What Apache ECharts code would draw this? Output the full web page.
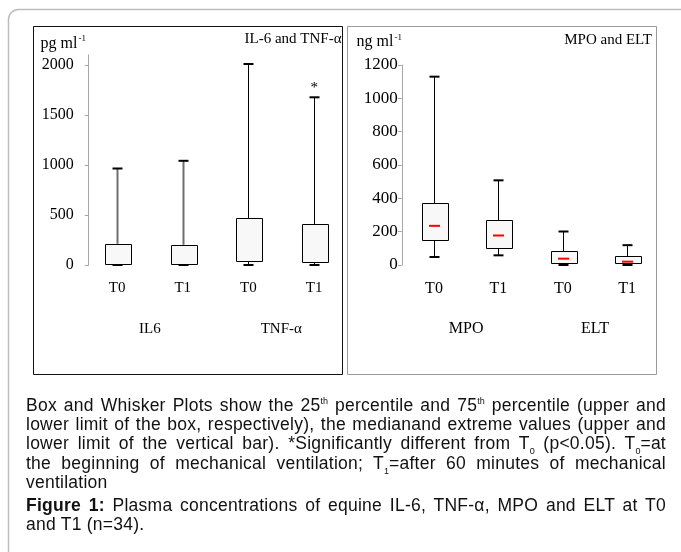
<!DOCTYPE html>
<html>
<head>
<meta charset="utf-8">
<script src="https://cdn.jsdelivr.net/npm/echarts@6/dist/echarts.min.js"></script>
<style>
  html, body { margin: 0; padding: 0; background: #fff; }
  #wrap { position: relative; width: 681px; height: 552px; overflow: hidden; }
  #chart { position: absolute; left: 0; top: 0; width: 681px; height: 552px; }
  #caption { position: absolute; left: 26px; top: 396px; width: 640px;
    font-family: 'Liberation Sans', Arial, sans-serif; font-size: 17.5px; letter-spacing: 0.25px; line-height: 19.2px; color: #111; }
  #caption .ln { display: block; white-space: nowrap; text-align: justify; text-align-last: justify; }
  #caption .last { display: block; text-align: left; }
  #caption sup, #caption sub { font-size: 9px; line-height: 0; letter-spacing: 0; }
  #caption .p2 { margin-top: 4px; }
</style>
</head>
<body>
<div id="wrap">
  <div id="chart"></div>
  <div id="caption">
    <div class="p1">
      <span class="ln">Box and Whisker Plots show the 25<sup>th</sup> percentile and 75<sup>th</sup> percentile (upper and</span>
      <span class="ln">lower limit of the box, respectively), the medianand extreme values (upper and</span>
      <span class="ln">lower limit of the vertical bar). *Significantly different from T<sub>0</sub> (p&lt;0.05). T<sub>0</sub>=at</span>
      <span class="ln">the beginning of mechanical ventilation; T<sub>1</sub>=after 60 minutes of mechanical</span>
      <span class="last">ventilation</span>
    </div>
    <div class="p2">
      <span class="ln"><b>Figure 1:</b> Plasma concentrations of equine IL-6, TNF-α, MPO and ELT at T0</span>
      <span class="last">and T1 (n=34).</span>
    </div>
  </div>
</div>
<script>
// ---- data: left panel (pg/ml) ----
const leftCategories = ['T0', 'T1', 'T0', 'T1'];
const leftGroups = ['IL6', 'TNF-α'];
const leftMin = [0, 0, 0, 0];
const leftQ1 = [10, 10, 40, 30];
const leftQ3 = [212, 202, 467, 407];
const leftMax = [965, 1042, 2010, 1677];
const leftTicks = [0, 500, 1000, 1500, 2000];
const leftAxisMax = 2100;
const asteriskCategory = 3;
const asteriskValue = 1770;

// ---- data: right panel (ng/ml) ----
const rightCategories = ['T0', 'T1', 'T0', 'T1'];
const rightGroups = ['MPO', 'ELT'];
const rightMin = [48, 58, 0, 0];
const rightQ1 = [147, 100, 14, 8];
const rightMedian = [235, 177, 38, 20];
const rightQ3 = [370, 269, 84, 52];
const rightMax = [1130, 508, 201, 119];
const rightTicks = [0, 200, 400, 600, 800, 1000, 1200];
const rightAxisMax = 1200;

// styles (kept apart from data)
const leftWhisker = [{c: '#6e6e6e', w: 2}, {c: '#6e6e6e', w: 2}, {c: '#000', w: 1}, {c: '#000', w: 1}];
const rightWhisker = [{c: '#000', w: 1}, {c: '#000', w: 1}, {c: '#000', w: 1}, {c: '#000', w: 1}];

const FONT = "'Liberation Serif', 'Times New Roman', serif";

function rows(mins, q1s, meds, q3s, maxs) {
  return mins.map((m, i) => [i, m, q1s[i], meds ? meds[i] : q1s[i], q3s[i], maxs[i]]);
}

function makeRender(wStyles, showMedian) {
  return function (params, api) {
    const i = api.value(0);
    const pMin = api.coord([i, api.value(1)]);
    const pQ1 = api.coord([i, api.value(2)]);
    const pMed = api.coord([i, api.value(3)]);
    const pQ3 = api.coord([i, api.value(4)]);
    const pMax = api.coord([i, api.value(5)]);
    const x = Math.round(pMax[0]) + 0.5;
    const bw = 26, cw = 10, mw = 11;
    const ws = wStyles[params.dataIndex];
    const ch = [
      {type: 'line', shape: {x1: x, y1: pMax[1], x2: x, y2: pQ3[1]}, style: {stroke: ws.c, lineWidth: ws.w}},
      {type: 'line', shape: {x1: x, y1: pQ1[1], x2: x, y2: pMin[1]}, style: {stroke: ws.c, lineWidth: ws.w}},
      {type: 'rect', shape: {x: Math.round(x - bw / 2) + 0.5, y: Math.round(pQ3[1]) + 0.5, width: bw, height: Math.round(pQ1[1] - pQ3[1])},
        style: {fill: '#f8f8f8', stroke: '#000', lineWidth: 1}},
      {type: 'line', shape: {x1: x - cw / 2, y1: pMax[1], x2: x + cw / 2, y2: pMax[1]}, style: {stroke: '#000', lineWidth: 2}},
      {type: 'line', shape: {x1: x - cw / 2, y1: pMin[1], x2: x + cw / 2, y2: pMin[1]}, style: {stroke: '#000', lineWidth: 2}}
    ];
    if (showMedian) {
      ch.push({type: 'line', shape: {x1: x - mw / 2, y1: pMed[1], x2: x + mw / 2, y2: pMed[1]}, style: {stroke: '#ff0000', lineWidth: 2}});
    }
    return {type: 'group', children: ch};
  };
}

function yAxisOpt(grid, max, ticks, margin, offset, fs) {
  return {
    type: 'value', gridIndex: grid, min: 0, max: max, offset: offset,
    axisLine: {show: true, lineStyle: {color: '#a6a6a6', width: 1}},
    axisTick: {show: true, inside: false, length: 4, lineStyle: {color: '#a6a6a6'}, customValues: ticks},
    axisLabel: {show: true, margin: margin, color: '#000', fontFamily: FONT, fontSize: fs, customValues: ticks,
      formatter: function (v) { return String(v); }},
    splitLine: {show: false}
  };
}

function xAxisOpt(grid, cats, offset, margin, fs) {
  return {
    type: 'category', gridIndex: grid, data: cats, position: 'bottom', offset: offset,
    boundaryGap: true,
    axisLine: {show: false}, axisTick: {show: false},
    axisLabel: {margin: margin, color: '#000', fontFamily: FONT, fontSize: fs, interval: 0}
  };
}

const chart = echarts.init(document.getElementById('chart'), null, {renderer: 'canvas'});

const textStyle = (extra) => Object.assign({fill: '#000', fontFamily: FONT, fontSize: 15}, extra);

chart.setOption({
  animation: false,
  backgroundColor: '#fff',
  grid: [
    {left: 84.2, top: 55, width: 262.8, height: 210},
    {left: 401.8, top: 65, width: 257.6, height: 200}
  ],
  xAxis: [
    xAxisOpt(0, leftCategories, 0, 16, 15),
    xAxisOpt(0, leftGroups, 41, 16, 15),
    xAxisOpt(1, rightCategories, 0, 16, 16),
    xAxisOpt(1, rightGroups, 40, 16, 16)
  ],
  yAxis: [
    yAxisOpt(0, leftAxisMax, leftTicks, 15, -4.5, 16),
    yAxisOpt(1, rightAxisMax, rightTicks, 4, 0, 17)
  ],
  graphic: [
    {type: 'rect', silent: true, z: -10, shape: {x: 8.5, y: 9.5, width: 720, height: 620, r: 10},
      style: {fill: 'none', stroke: '#bdbdbd', lineWidth: 1.5}},
    {type: 'rect', silent: true, z: -5, shape: {x: 33.5, y: 26.5, width: 309, height: 348},
      style: {fill: 'none', stroke: '#111', lineWidth: 1}},
    {type: 'rect', silent: true, z: -5, shape: {x: 347.5, y: 26.5, width: 309, height: 348},
      style: {fill: 'none', stroke: '#9a9a9a', lineWidth: 1}},
    {type: 'text', silent: true, x: 40.5, y: 43.5,
      style: {text: '{a|pg ml}{s|-1}', verticalAlign: 'middle', fill: '#000',
        rich: {a: {fontFamily: FONT, fontSize: 16}, s: {fontFamily: FONT, fontSize: 9, padding: [0, 0, 9, 1]}}}},
    {type: 'text', silent: true, x: 341.5, y: 39.5,
      style: textStyle({text: 'IL-6 and TNF-α', align: 'right', verticalAlign: 'middle'})},
    {type: 'text', silent: true, x: 356.5, y: 42,
      style: {text: '{a|ng ml}{s|-1}', verticalAlign: 'middle', fill: '#000',
        rich: {a: {fontFamily: FONT, fontSize: 16}, s: {fontFamily: FONT, fontSize: 9, padding: [0, 0, 9, 1]}}}},
    {type: 'text', silent: true, x: 652, y: 40,
      style: textStyle({text: 'MPO and ELT', align: 'right', verticalAlign: 'middle'})}
  ],
  series: [
    {
      type: 'custom', xAxisIndex: 0, yAxisIndex: 0,
      renderItem: makeRender(leftWhisker, false),
      encode: {x: 0, y: [1, 2, 3, 4, 5]},
      data: rows(leftMin, leftQ1, null, leftQ3, leftMax)
    },
    {
      type: 'custom', xAxisIndex: 0, yAxisIndex: 0,
      renderItem: function (params, api) {
        const p = api.coord([api.value(0), api.value(1)]);
        return {type: 'text', x: p[0], y: p[1],
          style: {text: '*', fill: '#000', fontFamily: FONT, fontSize: 15, align: 'center', verticalAlign: 'middle'}};
      },
      encode: {x: 0, y: 1},
      data: [[asteriskCategory, asteriskValue]]
    },
    {
      type: 'custom', xAxisIndex: 2, yAxisIndex: 1,
      renderItem: makeRender(rightWhisker, true),
      encode: {x: 0, y: [1, 2, 3, 4, 5]},
      data: rows(rightMin, rightQ1, rightMedian, rightQ3, rightMax)
    }
  ]
});
</script>
</body>
</html>
